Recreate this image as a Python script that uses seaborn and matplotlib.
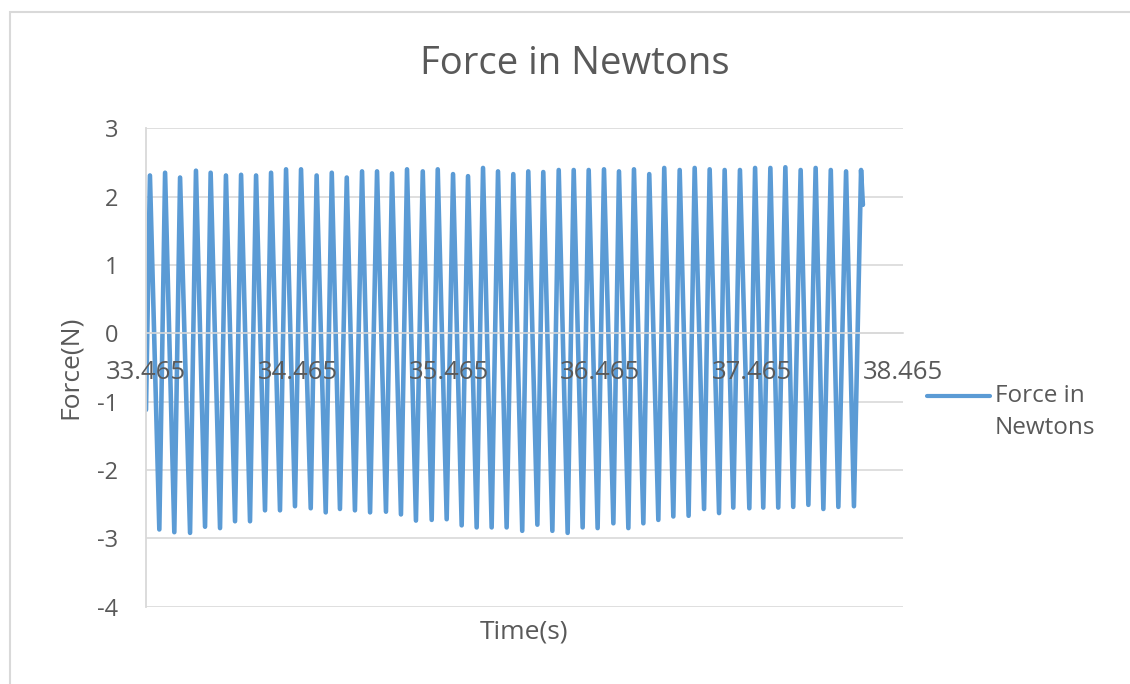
import matplotlib
matplotlib.use("Agg")
import matplotlib.pyplot as plt
from matplotlib.patches import Rectangle
from matplotlib.lines import Line2D
from matplotlib.legend_handler import HandlerLine2D
import numpy as np
import pandas as pd
import seaborn as sns

# Recorded force signal: turning points of each oscillation (time in s, force in N)
start_time, start_force = 33.465, -1.12
end_time, end_force = 38.200, 1.88

peak_time = [33.491, 33.591, 33.690, 33.795, 33.892, 33.993, 34.093, 34.192,
             34.291, 34.390, 34.489, 34.592, 34.692, 34.791, 34.892, 34.991,
             35.090, 35.189, 35.293, 35.392, 35.493, 35.592, 35.691, 35.790,
             35.891, 35.990, 36.089, 36.191, 36.290, 36.389, 36.490, 36.589,
             36.688, 36.789, 36.888, 36.990, 37.089, 37.188, 37.287, 37.388,
             37.488, 37.589, 37.688, 37.789, 37.888, 37.988, 38.089, 38.188]
peak_force = [2.31, 2.35, 2.28, 2.38, 2.35, 2.31, 2.32, 2.31,
              2.35, 2.40, 2.40, 2.31, 2.35, 2.28, 2.37, 2.37,
              2.34, 2.40, 2.37, 2.40, 2.33, 2.30, 2.42, 2.37,
              2.33, 2.37, 2.36, 2.39, 2.39, 2.39, 2.40, 2.37,
              2.40, 2.33, 2.42, 2.39, 2.42, 2.40, 2.39, 2.39,
              2.42, 2.42, 2.43, 2.39, 2.42, 2.39, 2.37, 2.39]

trough_time = [33.553, 33.652, 33.756, 33.855, 33.954, 34.053, 34.152, 34.251,
               34.350, 34.449, 34.553, 34.652, 34.746, 34.845, 34.945, 35.050,
               35.149, 35.248, 35.352, 35.451, 35.550, 35.649, 35.748, 35.847,
               35.950, 36.050, 36.149, 36.250, 36.349, 36.448, 36.552, 36.651,
               36.750, 36.849, 36.948, 37.049, 37.151, 37.250, 37.344, 37.450,
               37.542, 37.641, 37.740, 37.840, 37.939, 38.038, 38.141]
trough_force = [-2.87, -2.91, -2.92, -2.83, -2.85, -2.75, -2.75, -2.59,
                -2.59, -2.53, -2.56, -2.62, -2.57, -2.59, -2.62, -2.61,
                -2.65, -2.74, -2.73, -2.72, -2.81, -2.84, -2.84, -2.84,
                -2.89, -2.80, -2.89, -2.92, -2.84, -2.85, -2.78, -2.85,
                -2.78, -2.73, -2.68, -2.67, -2.57, -2.63, -2.55, -2.56,
                -2.55, -2.55, -2.54, -2.51, -2.57, -2.54, -2.53]

x_ticks = [33.465, 34.465, 35.465, 36.465, 37.465, 38.465]
x_tick_labels = ["33.465", "34.465", "35.465", "36.465", "37.465", "38.465"]
y_ticks = [-4, -3, -2, -1, 0, 1, 2, 3]

# Assemble the signal in time order: start, peak/trough alternation, end
times = [start_time]
forces = [start_force]
for i in range(len(peak_time)):
    times.append(peak_time[i])
    forces.append(peak_force[i])
    if i < len(trough_time):
        times.append(trough_time[i])
        forces.append(trough_force[i])
times.append(end_time)
forces.append(end_force)
df = pd.DataFrame({"Time": times, "Force": forces})


class RaisedLineHandler(HandlerLine2D):
    """Legend line drawn level with the first row of a two-row label."""

    def __init__(self, raise_pts, **kw):
        super().__init__(**kw)
        self.raise_pts = raise_pts

    def create_artists(self, legend, orig_handle, xdescent, ydescent,
                       width, height, fontsize, trans):
        artists = super().create_artists(legend, orig_handle, xdescent, ydescent,
                                         width, height, fontsize, trans)
        for a in artists:
            a.set_ydata(np.asarray(a.get_ydata(), dtype=float) + self.raise_pts)
        return artists


sns.set_theme(style="white")
plt.rcParams["font.family"] = ["Open Sans", "DejaVu Sans"]
plt.rcParams["axes.unicode_minus"] = False

TEXT = "#595959"
GRID = "#d9d9d9"
BLUE = "#5B9BD5"

W, H = 1130, 684
fig = plt.figure(figsize=(W / 100, H / 100), dpi=100)
fig.patch.set_facecolor("white")

# chart-area border
fig.patches.append(Rectangle((10 / W, -0.1), 1.2, 1 - 12 / H + 0.1,
                             transform=fig.transFigure, fill=False,
                             edgecolor=GRID, linewidth=1.5))

left, right, top, bottom = 146, 903, 128.3, 606.7
ax = fig.add_axes([left / W, 1 - bottom / H, (right - left) / W, (bottom - top) / H])

sns.lineplot(data=df, x="Time", y="Force", ax=ax, color=BLUE, linewidth=3.3,
             estimator=None, sort=False, label="Force in\nNewtons")

ax.set_xlim(33.465, 38.465)
ax.set_ylim(-4, 3)
ax.set_xticks(x_ticks)
ax.set_xticklabels(x_tick_labels)
ax.set_yticks(y_ticks)
ax.set_yticklabels([str(v) for v in y_ticks])

ax.grid(axis="y", color=GRID, linewidth=1.2)
ax.grid(axis="x", visible=False)
for s in ["top", "right"]:
    ax.spines[s].set_visible(False)
ax.spines["left"].set_color(GRID)
ax.spines["left"].set_linewidth(1.3)
ax.spines["bottom"].set_position(("data", 0))
ax.spines["bottom"].set_color(GRID)
ax.spines["bottom"].set_linewidth(1.2)

ax.tick_params(axis="x", length=0, pad=19.5, labelsize=18.5, colors=TEXT)
ax.tick_params(axis="y", length=0, pad=20, labelsize=17, colors=TEXT)
ax.xaxis.set_zorder(3)

ax.set_xlabel("Time(s)", fontsize=19, color=TEXT)
ax.set_ylabel("Force(N)", fontsize=19, color=TEXT)
ax.xaxis.label.set_va("center")
ax.xaxis.set_label_coords(0.5, (bottom - 632) / (bottom - top))
ax.yaxis.label.set_va("center")
ax.yaxis.set_label_coords((70 - left) / (right - left), 0.5)

fig.text(575 / W, 1 - 64 / H, "Force in Newtons", ha="center", va="center",
         fontsize=27.5, color=TEXT)

handles, labels = ax.get_legend_handles_labels()
leg = ax.legend(handles, labels, loc="upper left",
                bbox_to_anchor=(927 / W, 1 - 384 / H),
                bbox_transform=fig.transFigure, frameon=False, fontsize=17.5,
                handlelength=2.6, handletextpad=0.2, borderpad=0,
                borderaxespad=0, labelcolor=TEXT,
                handler_map={Line2D: RaisedLineHandler(11.9)})
for t in leg.get_texts():
    t.set_linespacing(1.42)
for line in leg.get_lines():
    line.set_linewidth(3)

fig.savefig("out.png", dpi=100)
